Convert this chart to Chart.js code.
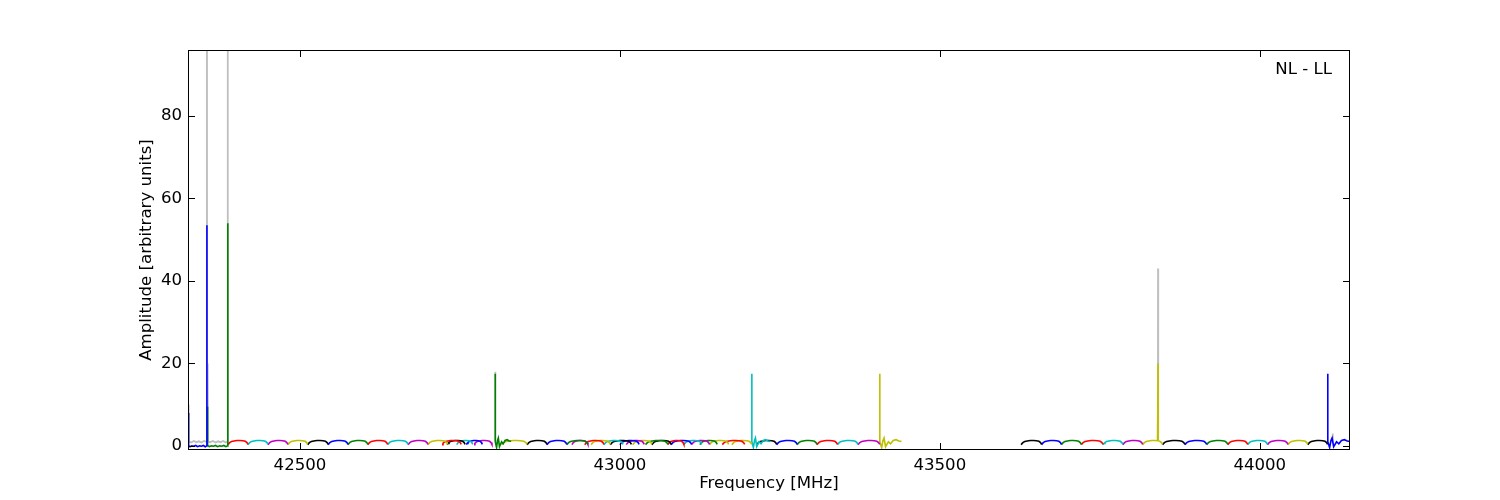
<!DOCTYPE html>
<html>
<head>
<meta charset="utf-8">
<script src="https://cdn.jsdelivr.net/npm/chart.js@4.4.0/dist/chart.umd.min.js"></script>
<style>
html, body { margin: 0; padding: 0; background: #fff; }
canvas { display: block; }
</style>
</head>
<body>
<canvas id="spectrum" width="1500" height="500"></canvas>
<script>
// subbands: start / end frequency [MHz], colour letter, kind (l = low, n = normal, w = wiggly after spike)
var segStart = [42325, 42355, 42387.5, 42418.7, 42450, 42481, 42512, 42544, 42575, 42606, 42637, 42669, 42700,
    42722, 42730, 42745, 42760, 42772, 42805, 42815, 42855, 42886, 42917, 42925, 42945, 42955, 42975, 42985,
    43000, 43010, 43020, 43040, 43050, 43075, 43080, 43100, 43112, 43125, 43140, 43160, 43175,
    43206, 43214, 43245, 43277, 43308, 43340, 43372, 43406,
    43627, 43659, 43690, 43721, 43755, 43786, 43817, 43848, 43883, 43917, 43950, 43981, 44012, 44044, 44075, 44106];
var segEnd = [42355, 42387.5, 42418.7, 42450, 42481, 42512, 42544, 42575, 42606, 42637, 42669, 42700, 42731,
    42752, 42758, 42770, 42785, 42800, 42830, 42855, 42886, 42917, 42950, 42950, 42975, 42985, 43005, 43018,
    43030, 43038, 43050, 43075, 43080, 43100, 43112, 43128, 43140, 43152, 43170, 43195, 43206,
    43235, 43245, 43277, 43308, 43340, 43372, 43406, 43440,
    43659, 43690, 43721, 43755, 43786, 43817, 43848, 43883, 43917, 43950, 43981, 44012, 44044, 44075, 44106, 44141];
var segColor = ['b', 'g', 'r', 'c', 'm', 'y', 'k', 'b', 'g', 'r', 'c', 'm', 'y',
    'r', 'k', 'c', 'b', 'm', 'g', 'y', 'k', 'b', 'g', 'm', 'r', 'y', 'c', 'k',
    'b', 'm', 'y', 'g', 'k', 'r', 'b', 'c', 'm', 'g', 'y', 'r', 'y',
    'c', 'k', 'b', 'g', 'r', 'c', 'm', 'y',
    'k', 'b', 'g', 'r', 'c', 'm', 'y', 'k', 'b', 'g', 'r', 'c', 'm', 'y', 'k', 'b'];
var segKind = ['l', 'l', 'n', 'n', 'n', 'n', 'n', 'n', 'n', 'n', 'n', 'n', 'n',
    'n', 'n', 'n', 'n', 'n', 'w', 'n', 'n', 'n', 'n', 'n', 'n', 'n', 'n', 'n',
    'n', 'n', 'n', 'n', 'n', 'n', 'n', 'n', 'n', 'n', 'n', 'n', 'n',
    'w', 'n', 'n', 'n', 'n', 'n', 'n', 'w',
    'n', 'n', 'n', 'n', 'n', 'n', 'n', 'n', 'n', 'n', 'n', 'n', 'n', 'n', 'n', 'w'];

// passband shapes (position as fraction of the subband, amplitude)
var bandPos = [0, 0.05, 0.1, 0.18, 0.3, 0.45, 0.6, 0.75, 0.87, 0.95, 1];
var bandAmp = [0.3, 0.6, 0.85, 1.05, 1.2, 1.3, 1.3, 1.25, 1.1, 0.8, 0.35];
var lowPos = [0, 0.1, 0.2, 0.3, 0.4, 0.5, 0.6, 0.7, 0.8, 0.9, 1];
var lowAmp = [0.1, -0.2, 0.0, -0.1, 0.1, -0.2, 0.0, -0.1, 0.1, -0.2, 0.0];
var wigglePos = [0, 0.09, 0.15, 0.2, 0.27, 0.4, 0.5, 0.62, 0.75, 0.88, 1];
var wiggleAmp = [1.0, -0.4, 1.3, 1.9, -0.2, 1.0, 0.5, 1.3, 1.5, 1.2, 1.1];

// narrow spikes (frequency, peak, colour)
var spikeFreq = [42326, 42354.5, 42355.6, 42387, 42805.2, 43206.2, 43406.2, 43841, 44106.3];
var spikeAmp = [8, 53.5, 9.5, 54, 17.5, 17.5, 17.5, 20, 17.5];
var spikeColor = ['b', 'b', 'g', 'g', 'g', 'c', 'y', 'y', 'b'];

// grey trace (only visible where it is not covered)
var greyFreq = [42325, 42325.6, 42326, 42326.4, 42330, 42334, 42338, 42342, 42346, 42350, 42354.2, 42354.5, 42354.8,
    42355.6, 42356, 42356.4, 42360, 42364, 42368, 42372, 42376, 42380, 42384, 42386.7, 42387, 42387.3, 42388,
    null, 42804.9, 42805.2, 42805.5, null, 43840.7, 43841, 43841.3, null, 44113.5, 44114, 44114.5];
var greyAmp = [1.0, 1.0, 10, 1.1, 0.8, 1.2, 0.9, 1.1, 0.8, 1.2, 1.0, 300, 1.0,
    1.0, 20, 1.1, 0.9, 1.2, 0.8, 1.1, 0.9, 1.2, 0.8, 1.0, 300, 1.1, 1.0,
    null, 1.2, 18, 1.2, null, 1.2, 43, 1.2, null, 0.8, 3, 0.8];

var xTicks = [42500, 43000, 43500, 44000];
var yTicks = [0, 20, 40, 60, 80];

var colours = { b: '#0000ff', g: '#008000', r: '#ff0000', c: '#00bfbf', m: '#bf00bf', y: '#bfbf00', k: '#000000' };

var datasets = [];
var greyData = [];
for (var i = 0; i < greyFreq.length; i++) {
    greyData.push({ x: greyFreq[i], y: greyAmp[i] });
}
datasets.push({ data: greyData, borderColor: '#bfbfbf', borderWidth: 1.8, order: 1, spanGaps: false });

for (var s = 0; s < segStart.length; s++) {
    var pos = bandPos, amp = bandAmp;
    if (segKind[s] === 'l') { pos = lowPos; amp = lowAmp; }
    if (segKind[s] === 'w') { pos = wigglePos; amp = wiggleAmp; }
    var w = segEnd[s] - segStart[s];
    var pts = [];
    for (var j = 0; j < pos.length; j++) {
        pts.push({ x: segStart[s] + pos[j] * w, y: amp[j] });
    }
    for (var k = 0; k < spikeFreq.length; k++) {
        var f = spikeFreq[k];
        if (spikeColor[k] === segColor[s] && f >= segStart[s] && f <= segEnd[s]) {
            var base = pts[0].y, best = 1e9;
            for (var q = 0; q < pts.length; q++) {
                if (Math.abs(pts[q].x - f) < best) { best = Math.abs(pts[q].x - f); base = pts[q].y; }
            }
            pts.push({ x: f - 0.15, y: base }, { x: f, y: spikeAmp[k] }, { x: f + 0.15, y: base });
        }
    }
    pts.sort(function (a, b) { return a.x - b.x; });
    datasets.push({ data: pts, borderColor: colours[segColor[s]], borderWidth: 1.6, order: 0 });
}

var frameAndTicks = {
    id: 'frameAndTicks',
    afterDraw: function (chart) {
        var ctx = chart.ctx, a = chart.chartArea;
        var xs = chart.scales.x, ys = chart.scales.y;
        var L = Math.round(a.left), R = Math.round(a.right), T = Math.round(a.top), B = Math.round(a.bottom);
        ctx.save();
        ctx.strokeStyle = '#000';
        ctx.lineWidth = 1;
        ctx.strokeRect(L + 0.5, T + 0.5, R - L - 1, B - T - 1);
        ctx.beginPath();
        xTicks.forEach(function (v) {
            var px = Math.round(xs.getPixelForValue(v)) + 0.5;
            ctx.moveTo(px, B); ctx.lineTo(px, B - 7);
            ctx.moveTo(px, T); ctx.lineTo(px, T + 7);
        });
        yTicks.forEach(function (v) {
            var py = Math.round(ys.getPixelForValue(v)) + 0.5;
            ctx.moveTo(L, py); ctx.lineTo(L + 7, py);
            ctx.moveTo(R, py); ctx.lineTo(R - 7, py);
        });
        ctx.stroke();
        ctx.fillStyle = '#000';
        ctx.font = '16.6px "DejaVu Sans"';
        ctx.textAlign = 'right';
        ctx.textBaseline = 'middle';
        ctx.fillText('NL - LL', 1332, 70);
        ctx.restore();
    }
};

Chart.defaults.font.family = '"DejaVu Sans", sans-serif';
Chart.defaults.font.size = 16.6;
Chart.defaults.color = '#000';

new Chart(document.getElementById('spectrum'), {
    type: 'line',
    data: { datasets: datasets },
    options: {
        responsive: false,
        animation: false,
        events: [],
        parsing: false,
        layout: { padding: { top: 50, right: 150, left: 0, bottom: 0 } },
        elements: { point: { radius: 0 }, line: { tension: 0 } },
        plugins: { legend: { display: false }, tooltip: { enabled: false } },
        scales: {
            x: {
                type: 'linear',
                min: 42325,
                max: 44141,
                afterBuildTicks: function (scale) { scale.ticks = xTicks.map(function (v) { return { value: v }; }); },
                afterFit: function (scale) { scale.height = 50; },
                grid: { display: false, drawTicks: false },
                border: { display: false },
                ticks: { padding: 6, maxRotation: 0, callback: function (v) { return String(v); } },
                title: { display: true, text: 'Frequency [MHz]', padding: { top: 0, bottom: 6 } }
            },
            y: {
                type: 'linear',
                min: -1,
                max: 96,
                afterBuildTicks: function (scale) { scale.ticks = yTicks.map(function (v) { return { value: v }; }); },
                afterFit: function (scale) { scale.width = 188; },
                grid: { display: false, drawTicks: false },
                border: { display: false },
                ticks: { padding: 6, callback: function (v) { return String(v); } },
                title: { display: true, text: 'Amplitude [arbitrary units]', padding: { top: 137, bottom: 0 } }
            }
        }
    },
    plugins: [frameAndTicks]
});
</script>
</body>
</html>
